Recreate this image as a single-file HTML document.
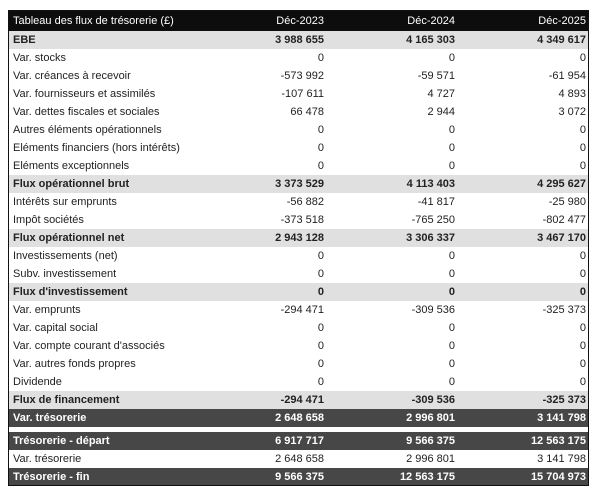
<!DOCTYPE html>
<html><head><meta charset="utf-8"><style>
body{margin:0;width:600px;height:492px;background:#fff;font-family:"Liberation Sans",sans-serif;font-size:11px;color:#222;}
#t{position:absolute;left:8px;top:10px;width:581px;height:476px;border:1px solid #111;box-sizing:border-box;overflow:hidden}
.r{position:absolute;left:0;width:100%;height:18px;line-height:18px;}
.r span{position:absolute;top:0}
.l{left:4px}
.a{right:264px}.b{right:133px}.c{right:2px}
.h{background:#0d0d0d;color:#fff;height:21px;line-height:21px}
.g{background:#e0e0e0;font-weight:bold}
.d{background:#474747;color:#fff}
.dd{background:#474747;color:#fff;font-weight:bold}
</style></head><body><div id="t">
<div class="r h" style="top:0"><span class="l">Tableau des flux de trésorerie (£)</span><span class="a">Déc-2023</span><span class="b">Déc-2024</span><span class="c">Déc-2025</span></div>
<div class="r g" style="top:20px"><span class="l">EBE</span><span class="a">3 988 655</span><span class="b">4 165 303</span><span class="c">4 349 617</span></div>
<div class="r" style="top:38px"><span class="l">Var. stocks</span><span class="a">0</span><span class="b">0</span><span class="c">0</span></div>
<div class="r" style="top:56px"><span class="l">Var. créances à recevoir</span><span class="a">-573 992</span><span class="b">-59 571</span><span class="c">-61 954</span></div>
<div class="r" style="top:74px"><span class="l">Var. fournisseurs et assimilés</span><span class="a">-107 611</span><span class="b">4 727</span><span class="c">4 893</span></div>
<div class="r" style="top:92px"><span class="l">Var. dettes fiscales et sociales</span><span class="a">66 478</span><span class="b">2 944</span><span class="c">3 072</span></div>
<div class="r" style="top:110px"><span class="l">Autres éléments opérationnels</span><span class="a">0</span><span class="b">0</span><span class="c">0</span></div>
<div class="r" style="top:128px"><span class="l">Eléments financiers (hors intérêts)</span><span class="a">0</span><span class="b">0</span><span class="c">0</span></div>
<div class="r" style="top:146px"><span class="l">Eléments exceptionnels</span><span class="a">0</span><span class="b">0</span><span class="c">0</span></div>
<div class="r g" style="top:164px"><span class="l">Flux opérationnel brut</span><span class="a">3 373 529</span><span class="b">4 113 403</span><span class="c">4 295 627</span></div>
<div class="r" style="top:182px"><span class="l">Intérêts sur emprunts</span><span class="a">-56 882</span><span class="b">-41 817</span><span class="c">-25 980</span></div>
<div class="r" style="top:200px"><span class="l">Impôt sociétés</span><span class="a">-373 518</span><span class="b">-765 250</span><span class="c">-802 477</span></div>
<div class="r g" style="top:218px"><span class="l">Flux opérationnel net</span><span class="a">2 943 128</span><span class="b">3 306 337</span><span class="c">3 467 170</span></div>
<div class="r" style="top:236px"><span class="l">Investissements (net)</span><span class="a">0</span><span class="b">0</span><span class="c">0</span></div>
<div class="r" style="top:254px"><span class="l">Subv. investissement</span><span class="a">0</span><span class="b">0</span><span class="c">0</span></div>
<div class="r g" style="top:272px"><span class="l">Flux d'investissement</span><span class="a">0</span><span class="b">0</span><span class="c">0</span></div>
<div class="r" style="top:290px"><span class="l">Var. emprunts</span><span class="a">-294 471</span><span class="b">-309 536</span><span class="c">-325 373</span></div>
<div class="r" style="top:308px"><span class="l">Var. capital social</span><span class="a">0</span><span class="b">0</span><span class="c">0</span></div>
<div class="r" style="top:326px"><span class="l">Var. compte courant d'associés</span><span class="a">0</span><span class="b">0</span><span class="c">0</span></div>
<div class="r" style="top:344px"><span class="l">Var. autres fonds propres</span><span class="a">0</span><span class="b">0</span><span class="c">0</span></div>
<div class="r" style="top:362px"><span class="l">Dividende</span><span class="a">0</span><span class="b">0</span><span class="c">0</span></div>
<div class="r g" style="top:380px"><span class="l">Flux de financement</span><span class="a">-294 471</span><span class="b">-309 536</span><span class="c">-325 373</span></div>
<div class="r dd" style="top:398px"><span class="l">Var. trésorerie</span><span class="a">2 648 658</span><span class="b">2 996 801</span><span class="c">3 141 798</span></div>
<div class="r dd" style="top:421px"><span class="l">Trésorerie - départ</span><span class="a">6 917 717</span><span class="b">9 566 375</span><span class="c">12 563 175</span></div>
<div class="r" style="top:439px"><span class="l">Var. trésorerie</span><span class="a">2 648 658</span><span class="b">2 996 801</span><span class="c">3 141 798</span></div>
<div class="r dd" style="top:457px;height:19px"><span class="l">Trésorerie - fin</span><span class="a">9 566 375</span><span class="b">12 563 175</span><span class="c">15 704 973</span></div>
</div></body></html>
